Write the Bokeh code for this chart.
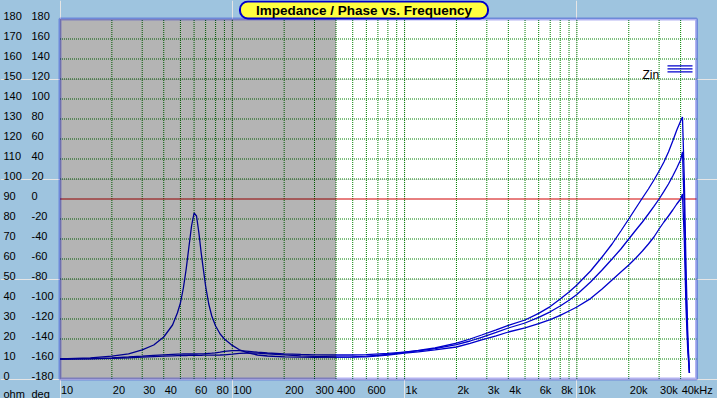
from bokeh.plotting import figure
from bokeh.models import (ColumnDataSource, LabelSet, Label, BoxAnnotation, Range1d,
                          GlobalInlineStyleSheet)
from bokeh.core.properties import value
from bokeh.embed import file_html
from bokeh.resources import INLINE

# ---------------- data ----------------
freq = [10, 15, 20, 25, 30, 35, 40, 45, 48, 50, 52, 54, 56, 58, 60, 62, 64, 66, 68, 70,
        73, 76, 80, 85, 90, 100, 110, 125, 140, 160, 200, 250, 300, 400, 500, 600, 800,
        1000, 1200, 1500, 2000, 2400, 2800, 3400, 4000, 5000, 6000, 7000, 8000, 9000,
        10000, 12000, 14000, 16000, 18000, 20000, 22000, 24000, 26000, 28000, 30000,
        32000, 34000, 36000, 38000, 40000, 41000, 42000, 43000, 44000, 45000]

z_res = [10.0, 10.6, 11.4, 12.6, 14.6, 17.0, 21.0, 27.0, 33.0, 38.0, 45.5, 55.0, 66.0, 76.5,
         83.0, 81.5, 73.0, 63.0, 54.5, 46.5, 37.5, 31.5, 26.5, 22.5, 20.0, 16.8, 14.6, 12.9,
         12.0, 11.5, 11.1, 10.9, 10.8, 10.9, 11.1, 11.4, 12.3,
         13.4, 14.3, 15.5, 17.9, 20.0, 22.0, 24.6, 26.8, 29.5, 32.8, 36.2, 40.0, 43.5,
         47.0, 54.0, 61.0, 67.5, 74.0, 80.0, 85.5, 90.5, 95.0, 99.5, 104.0,
         108.5, 113.5, 119.0, 124.5, 129.0, 131.0, 100.0, 55.0, 22.0, 3.0]

z_mid = [10.0, 10.2, 10.6, 11.0, 11.4, 11.8, 12.1, 12.3, 12.4, 12.4, 12.5, 12.5, 12.5, 12.5,
         12.5, 12.5, 12.6, 12.6, 12.6, 12.7, 12.8, 12.9, 13.1, 13.4, 13.8, 14.2, 14.2, 13.8,
         13.4, 13.0, 12.6, 12.3, 12.1, 12.0, 12.0, 12.2, 12.8,
         13.4, 14.1, 15.2, 17.2, 19.0, 20.8, 23.3, 25.5, 28.0, 30.8, 33.6, 36.5, 39.4,
         42.3, 48.5, 54.5, 60.0, 65.0, 70.0, 74.5, 78.5, 82.5, 86.3, 90.0,
         93.8, 97.5, 101.5, 105.5, 109.6, 113.5, 85.0, 45.0, 18.0, 3.0]

z_low = [10.0, 10.1, 10.3, 10.6, 10.9, 11.2, 11.4, 11.6, 11.7, 11.7, 11.7, 11.7, 11.8, 11.8,
         11.8, 11.8, 11.8, 11.8, 11.9, 11.9, 11.9, 11.9, 11.9, 12.0, 12.1, 12.4, 12.8, 13.0,
         12.9, 12.6, 12.1, 11.6, 11.3, 11.0, 10.9, 11.1, 12.0,
         13.0, 13.6, 14.6, 16.0, 17.8, 19.6, 21.6, 23.5, 25.6, 27.7, 29.7, 31.8, 34.0,
         36.0, 40.2, 45.0, 49.5, 53.5, 57.0, 60.5, 64.0, 67.5, 71.0, 75.0,
         78.5, 81.5, 84.5, 87.5, 90.0, 92.5, 70.0, 35.0, 14.0, 3.0]

ohm_ticks = [0, 10, 20, 30, 40, 50, 60, 70, 80, 90, 100, 110, 120, 130, 140, 150, 160, 170, 180]
ohm_labels = ["0", "10", "20", "30", "40", "50", "60", "70", "80", "90", "100", "110", "120",
              "130", "140", "150", "160", "170", "180"]
deg_labels = ["-180", "-160", "-140", "-120", "-100", "-80", "-60", "-40", "-20", "0", "20",
              "40", "60", "80", "100", "120", "140", "160", "180"]

freq_label_pos = [10, 20, 30, 40, 60, 80, 100, 200, 300, 400, 600, 1000, 2000, 3000, 4000,
                  6000, 8000, 10000, 20000, 30000, 40000]
freq_label_text = ["10", "20", "30", "40", "60", "80", "100", "200", "300", "400", "600", "1k",
                   "2k", "3k", "4k", "6k", "8k", "10k", "20k", "30k", "40kHz"]

freq_grid = [20, 30, 40, 50, 60, 70, 80, 90, 100, 200, 300, 400, 500, 600, 700, 800, 900,
             1000, 2000, 3000, 4000, 5000, 6000, 7000, 8000, 9000, 10000, 20000, 30000, 40000]
ohm_grid = [10, 20, 30, 40, 50, 60, 70, 80, 100, 110, 120, 130, 140, 150, 160, 170]
phase_zero_ohm = 90
shade_lo, shade_hi = 10, 400
f_min, f_max = 10, 49450
z_min, z_max = 0, 180

title_text = "Impedance / Phase vs. Frequency"
legend_text = "Zin"
unit_texts = ["ohm", "deg"]

# ---------------- layout (pixels) ----------------
W, H = 717, 398
PX_LEFT = 59.5      # x pixel of 10 Hz
PX_DEC = 172.3      # pixels per decade
PY_ZERO = 378.5     # y pixel (from top) of 0 ohm
PY_PER_OHM = 2.0
x_lo = 10 * 10 ** (-PX_LEFT / PX_DEC)
x_hi = 10 * 10 ** ((W - PX_LEFT) / PX_DEC)
y_lo = -(H - PY_ZERO) / PY_PER_OHM
y_hi = PY_ZERO / PY_PER_OHM

BG = "#9ec4df"
BLUE = "#0000cc"
GRID = "#008000"
RED = "#d00000"
FONT = "Liberation Sans"

p = figure(width=W, height=H, x_axis_type="log",
           x_range=Range1d(x_lo, x_hi), y_range=Range1d(y_lo, y_hi),
           x_axis_location=None, y_axis_location=None,
           output_backend="svg", toolbar_location=None,
           min_border_left=0, min_border_right=0, min_border_top=0, min_border_bottom=0)
p.stylesheets = [GlobalInlineStyleSheet(css="body { background-color: %s; }" % BG)]
p.background_fill_color = BG
p.border_fill_color = BG
p.outline_line_color = None

# plot area
p.quad(left=[f_min], right=[f_max], bottom=[z_min], top=[z_max],
       fill_color="white", line_color=None, level="image")

# grid
p.segment(x0=freq_grid, x1=freq_grid, y0=z_min, y1=z_max,
          line_color=GRID, line_dash="1 1", line_width=1)
p.segment(x0=f_min, x1=f_max, y0=ohm_grid, y1=ohm_grid,
          line_color=GRID, line_dash="1 1", line_width=1)
p.segment(x0=[f_min], x1=[f_max], y0=[phase_zero_ohm], y1=[phase_zero_ohm],
          line_color=RED, line_width=1)

# curves
src = ColumnDataSource(dict(f=freq, a=z_res, b=z_mid, c=z_low))
for col in ["a", "b", "c"]:
    p.line("f", col, source=src, line_color=BLUE, line_width=1.3)

# darkened low-frequency region
p.add_layout(BoxAnnotation(left=shade_lo, right=shade_hi, bottom=z_min, top=z_max,
                           fill_color="black", fill_alpha=0.294, line_color=None))
# plot border
p.add_layout(BoxAnnotation(left=f_min, right=f_max, bottom=z_min, top=z_max,
                           fill_color=None, fill_alpha=0, line_color=BLUE, line_width=3))

# y tick labels (ohm and deg)
ysrc = ColumnDataSource(dict(y=ohm_ticks, ohm=ohm_labels, deg=deg_labels))
for col, xs in [("ohm", 3), ("deg", 31)]:
    p.add_layout(LabelSet(x=xs, y="y", text=col, source=ysrc, x_units="screen", y_units="data",
                          text_font=value(FONT), text_font_size="11px", text_color="black",
                          text_align="left", text_baseline="alphabetic", y_offset=-1))

# x tick labels
xsrc = ColumnDataSource(dict(x=freq_label_pos, t=freq_label_text))
p.add_layout(LabelSet(x="x", y=5, text="t", source=xsrc, x_units="data", y_units="screen",
                      text_font=value(FONT), text_font_size="11px", text_color="black",
                      text_align="left", text_baseline="alphabetic", x_offset=1))

for txt, xs in zip(unit_texts, [3, 31]):
    p.add_layout(Label(x=xs, y=5, x_units="screen", y_units="screen", text=txt,
                       text_font=FONT, text_font_size="11px", text_color="black",
                       text_align="left", text_baseline="alphabetic"))

# legend
p.add_layout(Label(x=642, y=324, x_units="screen", y_units="screen", text=legend_text,
                   text_font=FONT, text_font_size="12px", text_color="black",
                   text_align="left", text_baseline="alphabetic"))
for yc in [332.7, 329.7, 326.7]:
    p.add_layout(BoxAnnotation(left=667, right=692, bottom=yc - 0.6, top=yc + 0.6,
                               left_units="screen", right_units="screen",
                               bottom_units="screen", top_units="screen",
                               fill_color=BLUE, fill_alpha=1, line_color=None))

# title
p.add_layout(Label(x=363.5, y=388.5, x_units="screen", y_units="screen", text=title_text,
                   text_font=FONT, text_font_style="bold", text_font_size="13.5px",
                   text_color="black", text_align="center", text_baseline="middle",
                   background_fill_color="#ffff40", border_line_color=BLUE, border_line_width=2,
                   border_radius=8, padding=dict(left=16, right=16, top=1, bottom=1)))

open("out.html", "w").write(file_html(p, INLINE))
